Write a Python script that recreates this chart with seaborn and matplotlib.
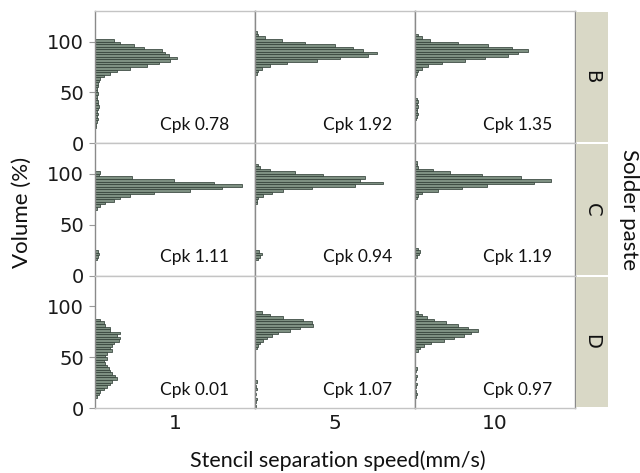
import numpy as np
import pandas as pd
import seaborn as sns
import matplotlib.pyplot as plt

pastes = ['B', 'C', 'D']
speeds = ['1', '5', '10']
cpk = [['0.78', '1.92', '1.35'],
       ['1.11', '0.94', '1.19'],
       ['0.01', '1.07', '0.97']]

# histogram counts, listed from the top bin down (bins of 2.5 %)
bin_w = 2.5
b1_top = 102.5
b1 = [19, 25, 39, 49, 67, 70, 74, 82, 75, 64, 52, 35, 22, 15, 9, 5,
      4, 3, 3, 2, 2, 3, 2, 2, 3, 3, 4, 3, 2, 3, 2, 3, 2, 1, 1]
b5_top = 110
b5 = [2, 3, 10, 27, 50, 80, 98, 108, 122, 113, 85, 62, 32, 15, 7, 3, 2]
b10_top = 107.5
b10 = [3, 7, 15, 43, 73, 97, 113, 103, 93, 70, 50, 27, 13, 7, 3, 2, 1,
       0, 0, 0, 0, 0, 0, 0, 0, 2, 3, 2, 3, 2, 2, 3, 2, 1]
c1_top = 102.5
c1 = [5, 4, 37, 79, 119, 147, 127, 95, 59, 35, 25, 19, 10, 5, 2,
      0, 0, 0, 0, 0, 0, 0, 0, 0, 0, 0, 0, 0, 0, 0, 0, 3, 4, 3, 2]
c5_top = 110
c5 = [3, 5, 15, 40, 68, 110, 105, 128, 100, 57, 28, 17, 8, 3, 2, 2,
      0, 0, 0, 0, 0, 0, 0, 0, 0, 0, 0, 0, 0, 0, 0, 0, 0, 0, 4, 7, 5, 3]
c10_top = 112.5
c10 = [2, 2, 3, 18, 35, 67, 106, 136, 119, 72, 47, 23, 7, 3, 2,
       0, 0, 0, 0, 0, 0, 0, 0, 0, 0, 0, 0, 0, 0, 0, 0, 0, 0, 0, 3, 5, 4, 2]
d1_top = 87.5
d1 = [5, 9, 10, 15, 15, 25, 22, 25, 24, 19, 17, 15, 17, 12, 10, 12, 9, 10,
      12, 14, 15, 17, 20, 22, 17, 15, 12, 9, 5, 4, 2]
d5_top = 95
d5 = [7, 15, 28, 48, 57, 58, 45, 35, 23, 17, 12, 8, 5, 3, 2,
      0, 0, 0, 0, 0, 0, 0, 0, 0, 0, 0, 0, 2, 0, 1, 2, 0, 1, 0, 2, 1, 0, 1]
d10_top = 95
d10 = [3, 7, 12, 19, 31, 43, 53, 63, 56, 49, 39, 29, 16, 9, 5, 3,
       0, 0, 0, 0, 0, 0, 2, 1, 0, 2, 1, 0, 2, 1, 0, 1, 2, 1]

panels = {('B', '1'): (b1_top, b1), ('B', '5'): (b5_top, b5), ('B', '10'): (b10_top, b10),
          ('C', '1'): (c1_top, c1), ('C', '5'): (c5_top, c5), ('C', '10'): (c10_top, c10),
          ('D', '1'): (d1_top, d1), ('D', '5'): (d5_top, d5), ('D', '10'): (d10_top, d10)}

rows = []
for (p, s), (top, counts) in panels.items():
    for i, n in enumerate(counts):
        rows.append({'paste': p, 'speed': s, 'volume': top - bin_w * (i + 0.5), 'count': n})
df = pd.DataFrame(rows)

sns.set_style('white')
plt.rcParams['font.family'] = ['DejaVu Sans']

W, H = 640, 473
fig = plt.figure(figsize=(W / 100, H / 100), dpi=100)

left, right, top, bottom = 95, 575, 11, 408
cw = (right - left) / 3
rh = (bottom - top) / 3
bar_color = '#7e9082'
edge_color = '#34423a'
strip_color = '#d9d8c6'

for r, p in enumerate(pastes):
    for c, s in enumerate(speeds):
        x0 = left + c * cw
        y0 = top + r * rh
        ax = fig.add_axes([x0 / W, 1 - (y0 + rh) / H, cw / W, rh / H])
        sub = df[(df.paste == p) & (df.speed == s)]
        sns.histplot(data=sub, y='volume', weights='count', binwidth=bin_w,
                     binrange=(0, 130), ax=ax, color=bar_color, edgecolor=edge_color,
                     linewidth=0.55, alpha=1)
        ax.set_xlim(0, 160)
        ax.set_ylim(0, 130)
        ax.set_xticks([])
        ax.set_ylabel('')
        ax.set_xlabel('')
        for side in ['left', 'right']:
            ax.spines[side].set_color('#8a8a8a')
            ax.spines[side].set_linewidth(1.0)
        for side in ['top', 'bottom']:
            ax.spines[side].set_color('#c4c4c4')
            ax.spines[side].set_linewidth(1.0)
        if c == 0:
            ax.set_yticks([0, 50, 100])
            ax.tick_params(axis='y', length=4, color='#9a9a9a', labelsize=14,
                           labelcolor='#1a1a1a', pad=4, left=True)
        else:
            ax.set_yticks([])
        ax.text(0.855 if c else 0.84, 0.1, 'Cpk ' + cpk[r][c], transform=ax.transAxes,
                ha='right', va='baseline', fontsize=12.5, family='Lato', color='#111111')
        if r == 2:
            ax.set_xlabel(s, fontsize=14.5, color='#1a1a1a', labelpad=4)

    # strip on the right
    sax = fig.add_axes([(right + 1) / W, 1 - (top + (r + 1) * rh - 1) / H, 32 / W, (rh - 2) / H])
    sax.set_facecolor(strip_color)
    sax.set_xticks([])
    sax.set_yticks([])
    for sp in sax.spines.values():
        sp.set_visible(False)
    sax.text(0.5, 0.5, p, rotation=-90, ha='center', va='center', fontsize=14,
             color='#111111', transform=sax.transAxes)

fig.text(22 / W, 1 - 212 / H, 'Volume (%)', rotation=90, ha='center', va='center',
         fontsize=16, family='Lato', color='#111111')
fig.text(338 / W, 1 - 461 / H, 'Stencil separation speed(mm/s)', ha='center', va='center',
         fontsize=15.5, family='Lato', color='#111111')
fig.text(629 / W, 1 - 210 / H, 'Solder paste', rotation=-90, ha='center', va='center',
         fontsize=16, family='Lato', color='#111111')

fig.savefig('out.png', dpi=100)
